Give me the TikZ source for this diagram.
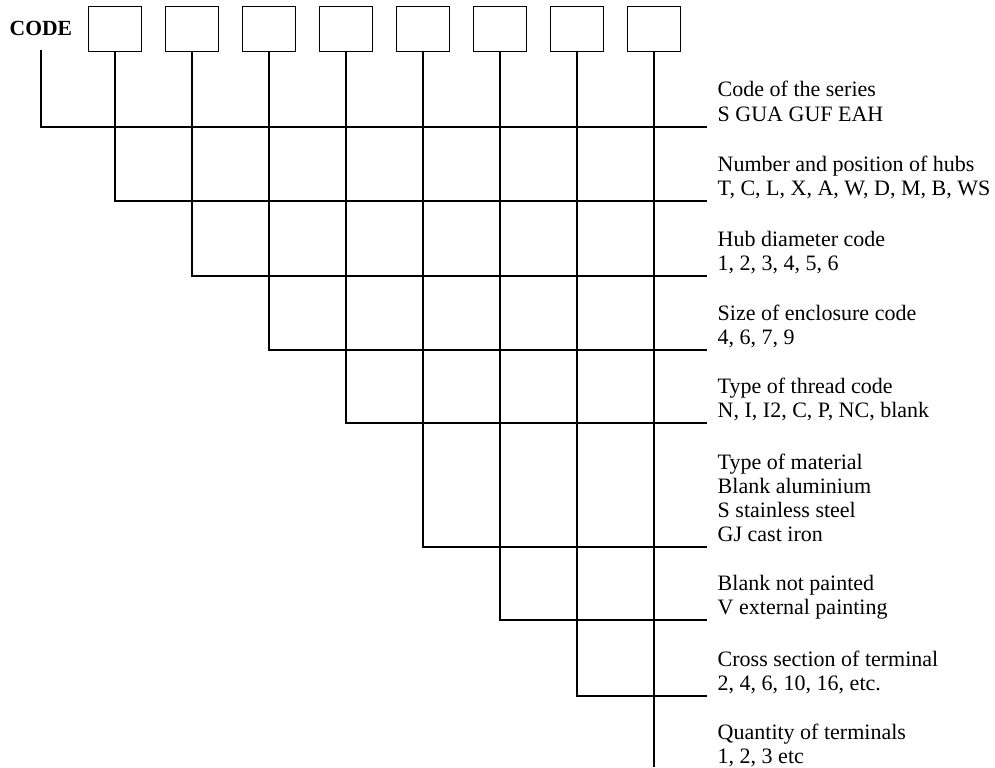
\documentclass[tikz,border=0pt]{standalone}
\usepackage{fontspec}
\setmainfont{Liberation Serif}
\begin{document}
\begin{tikzpicture}[x=0.75pt,y=-0.75pt,
  line width=1.1pt,
  codebox/.style={draw, minimum width=53*0.75pt, minimum height=45*0.75pt, inner sep=0pt, anchor=north},
  label/.style={anchor=base west, inner sep=0pt, align=left, font=\fontsize{16.5}{18}\selectfont},
  conn/.style={draw, line width=1.1pt}]
\useasboundingbox (0,0) rectangle (995,767);
\node[anchor=base west, inner sep=0pt, font=\fontsize{16.2}{18}\selectfont\bfseries] (code) at (9,36) {CODE};
\foreach \k in {1,...,8} {
  \node[codebox] (b\k) at ({115+77*(\k-1)},6) {};
}
\coordinate (c0) at (41,50);
\coordinate (h0) at (707,127);
\coordinate (h1) at (707,201);
\coordinate (h2) at (707,276);
\coordinate (h3) at (707,350);
\coordinate (h4) at (707,423);
\coordinate (h5) at (707,547);
\coordinate (h6) at (707,620);
\coordinate (h7) at (707,696);
\coordinate (e8) at (b8.south |- 0,767);
\draw[conn] (c0) |- (h0);
\foreach \k in {1,...,7} { \draw[conn] (b\k.south) |- (h\k); }
\draw[conn] (b8.south) -- (e8);
\node[label] (t0) at (717,{127-6}) {Code of the series\\S GUA GUF EAH};
\node[label] (t1) at (717,{201-6}) {Number and position of hubs\\T, C, L, X, A, W, D, M, B, WS};
\node[label] (t2) at (717,{276-6}) {Hub diameter code\\1, 2, 3, 4, 5, 6};
\node[label] (t3) at (717,{350-6}) {Size of enclosure code\\4, 6, 7, 9};
\node[label] (t4) at (717,{423-6}) {Type of thread code\\N, I, I2, C, P, NC, blank};
\node[label] (t5) at (717,{547-6}) {Type of material\\Blank aluminium\\S stainless steel\\GJ cast iron};
\node[label] (t6) at (717,{620-6}) {Blank not painted\\V external painting};
\node[label] (t7) at (717,{696-6}) {Cross section of terminal\\2, 4, 6, 10, 16, etc.};
\node[label] (t8) at (717,763) {Quantity of terminals\\1, 2, 3 etc};
\end{tikzpicture}
\end{document}
